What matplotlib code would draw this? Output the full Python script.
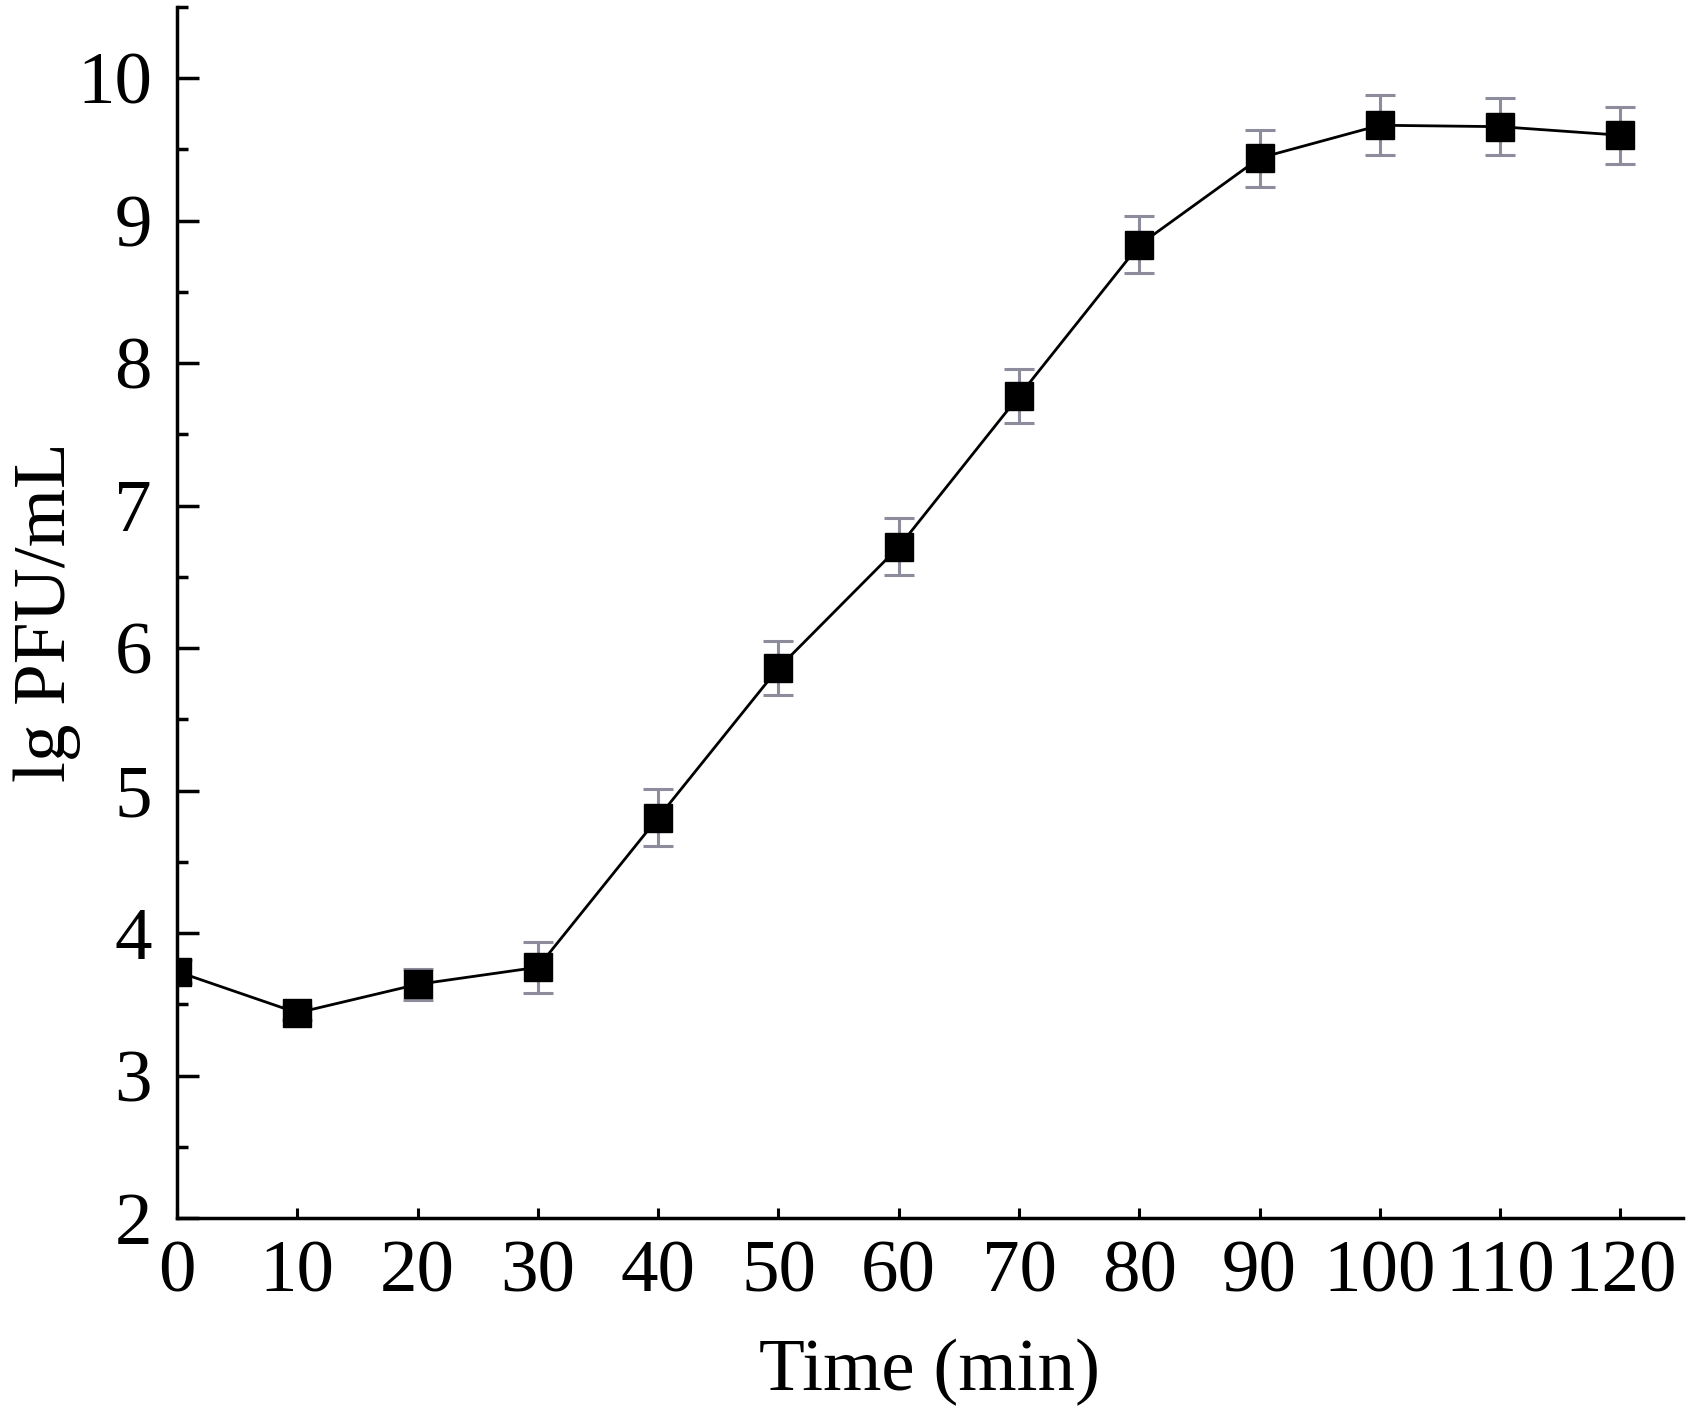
import matplotlib
matplotlib.use("Agg")
import matplotlib.pyplot as plt
from matplotlib.ticker import MultipleLocator

# --- data ---
time_min = [0, 10, 20, 30, 40, 50, 60, 70, 80, 90, 100, 110, 120]
lg_pfu = [3.73, 3.44, 3.64, 3.76, 4.81, 5.86, 6.71, 7.77, 8.83, 9.44, 9.67, 9.66, 9.60]
err = [0.08, 0.05, 0.11, 0.18, 0.20, 0.19, 0.20, 0.19, 0.20, 0.20, 0.21, 0.20, 0.20]

plt.rcParams['font.family'] = ['Liberation Serif', 'DejaVu Serif']

fig = plt.figure(figsize=(16.99, 14.11), dpi=100)
ax = fig.add_axes([177 / 1699, 1 - 1218 / 1411, (1683 - 177) / 1699, (1218 - 7) / 1411])

ax.errorbar(time_min, lg_pfu, yerr=err, fmt='none', ecolor='#8c8c9c',
            elinewidth=2.2, capsize=11, capthick=2.2, zorder=2)
ax.plot(time_min, lg_pfu, color='black', linewidth=2.0, marker='s',
        markersize=20, markerfacecolor='black', markeredgecolor='black', zorder=3)

ax.set_xlim(0, 125.2)
ax.set_ylim(2, 10.5)
ax.xaxis.set_major_locator(MultipleLocator(10))
ax.yaxis.set_major_locator(MultipleLocator(1))
ax.yaxis.set_minor_locator(MultipleLocator(0.5))

for s in ['top', 'right']:
    ax.spines[s].set_visible(False)
for s in ['left', 'bottom']:
    ax.spines[s].set_linewidth(2.5)

ax.tick_params(axis='x', which='major', direction='in', length=7, width=2.2,
               labelsize=54, pad=16)
ax.tick_params(axis='y', which='major', direction='in', length=16, width=2.5,
               labelsize=54, pad=18)
ax.tick_params(axis='y', which='minor', direction='in', length=8, width=2.5)

ax.set_xlabel('Time (min)', fontsize=54)
ax.set_ylabel('lg PFU/mL', fontsize=54)
ax.xaxis.set_label_coords(0.5, -0.1)
ax.yaxis.set_label_coords(-0.064, 0.5)

fig.savefig('out.png', dpi=100)
